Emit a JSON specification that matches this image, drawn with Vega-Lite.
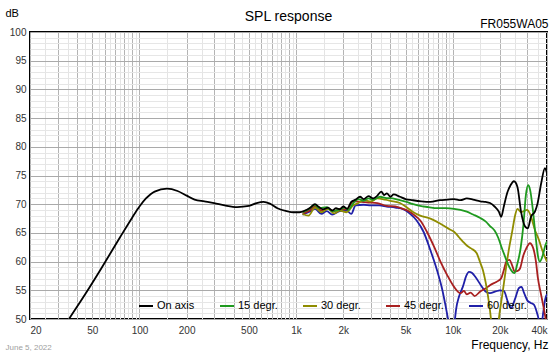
{
  "$schema": "https://vega.github.io/schema/vega-lite/v6.json",
  "width": 517,
  "height": 287,
  "autosize": {"type": "none"},
  "padding": {"left": 30, "top": 32, "right": 13, "bottom": 37},
  "background": "#ffffff",
  "config": {
    "font": "Liberation Sans",
    "view": {"stroke": "#000000", "strokeWidth": 2}
  },
  "title": {
    "text": "SPL response",
    "fontSize": 14,
    "fontWeight": "normal",
    "color": "#000000",
    "anchor": "middle",
    "frame": "group",
    "offset": -17
  },
  "data": {
    "values": [
      {"s": "60 degr.", "f": 1100, "db": 68.2},
      {"s": "60 degr.", "f": 1200, "db": 68.6},
      {"s": "60 degr.", "f": 1320, "db": 69.2},
      {"s": "60 degr.", "f": 1450, "db": 68.3},
      {"s": "60 degr.", "f": 1570, "db": 68.8},
      {"s": "60 degr.", "f": 1700, "db": 68.2},
      {"s": "60 degr.", "f": 1900, "db": 68.8},
      {"s": "60 degr.", "f": 2100, "db": 68.9},
      {"s": "60 degr.", "f": 2250, "db": 68.3},
      {"s": "60 degr.", "f": 2400, "db": 69.8},
      {"s": "60 degr.", "f": 2700, "db": 69.9},
      {"s": "60 degr.", "f": 3000, "db": 69.8},
      {"s": "60 degr.", "f": 3400, "db": 69.8},
      {"s": "60 degr.", "f": 3790, "db": 69.6},
      {"s": "60 degr.", "f": 4300, "db": 69.4},
      {"s": "60 degr.", "f": 4860, "db": 69.1},
      {"s": "60 degr.", "f": 5300, "db": 68.4},
      {"s": "60 degr.", "f": 5870, "db": 67.2},
      {"s": "60 degr.", "f": 6510, "db": 65.2},
      {"s": "60 degr.", "f": 7200, "db": 62.0},
      {"s": "60 degr.", "f": 7940, "db": 58.5},
      {"s": "60 degr.", "f": 8580, "db": 55.1},
      {"s": "60 degr.", "f": 9030, "db": 52.1},
      {"s": "60 degr.", "f": 9400, "db": 49.5},
      {"s": "60 degr.", "f": 9800, "db": 46.0},
      {"s": "60 degr.", "f": 10200, "db": 48.5},
      {"s": "60 degr.", "f": 10500, "db": 51.6},
      {"s": "60 degr.", "f": 11000, "db": 54.0},
      {"s": "60 degr.", "f": 11600, "db": 55.6},
      {"s": "60 degr.", "f": 12200, "db": 57.5},
      {"s": "60 degr.", "f": 12700, "db": 58.2},
      {"s": "60 degr.", "f": 13300, "db": 58.0},
      {"s": "60 degr.", "f": 13900, "db": 57.4},
      {"s": "60 degr.", "f": 15200, "db": 55.8},
      {"s": "60 degr.", "f": 16200, "db": 54.8},
      {"s": "60 degr.", "f": 17300, "db": 54.5},
      {"s": "60 degr.", "f": 18800, "db": 54.8},
      {"s": "60 degr.", "f": 20000, "db": 55.0},
      {"s": "60 degr.", "f": 21200, "db": 54.9},
      {"s": "60 degr.", "f": 22500, "db": 53.0},
      {"s": "60 degr.", "f": 23600, "db": 51.9},
      {"s": "60 degr.", "f": 25000, "db": 53.5},
      {"s": "60 degr.", "f": 26500, "db": 55.4},
      {"s": "60 degr.", "f": 27500, "db": 55.6},
      {"s": "60 degr.", "f": 28500, "db": 54.6},
      {"s": "60 degr.", "f": 30000, "db": 53.2},
      {"s": "60 degr.", "f": 31500, "db": 52.8},
      {"s": "60 degr.", "f": 33000, "db": 52.5},
      {"s": "60 degr.", "f": 35000, "db": 50.5},
      {"s": "60 degr.", "f": 36500, "db": 48.5},
      {"s": "60 degr.", "f": 38000, "db": 51.5},
      {"s": "60 degr.", "f": 39000, "db": 53.5},
      {"s": "60 degr.", "f": 40000, "db": 54.3},

      {"s": "45 degr.", "f": 1100, "db": 68.4},
      {"s": "45 degr.", "f": 1200, "db": 68.8},
      {"s": "45 degr.", "f": 1320, "db": 69.6},
      {"s": "45 degr.", "f": 1450, "db": 68.9},
      {"s": "45 degr.", "f": 1570, "db": 69.3},
      {"s": "45 degr.", "f": 1750, "db": 68.8},
      {"s": "45 degr.", "f": 1900, "db": 69.2},
      {"s": "45 degr.", "f": 2100, "db": 69.1},
      {"s": "45 degr.", "f": 2320, "db": 70.5},
      {"s": "45 degr.", "f": 2600, "db": 70.4},
      {"s": "45 degr.", "f": 2900, "db": 70.3},
      {"s": "45 degr.", "f": 3300, "db": 70.2},
      {"s": "45 degr.", "f": 3790, "db": 69.7},
      {"s": "45 degr.", "f": 4300, "db": 69.6},
      {"s": "45 degr.", "f": 4800, "db": 69.2},
      {"s": "45 degr.", "f": 5300, "db": 68.7},
      {"s": "45 degr.", "f": 5800, "db": 67.9},
      {"s": "45 degr.", "f": 6190, "db": 67.2},
      {"s": "45 degr.", "f": 6840, "db": 65.2},
      {"s": "45 degr.", "f": 7600, "db": 62.6},
      {"s": "45 degr.", "f": 8350, "db": 60.0},
      {"s": "45 degr.", "f": 9200, "db": 57.7},
      {"s": "45 degr.", "f": 10200, "db": 55.6},
      {"s": "45 degr.", "f": 11200, "db": 54.5},
      {"s": "45 degr.", "f": 11800, "db": 54.9},
      {"s": "45 degr.", "f": 12300, "db": 54.3},
      {"s": "45 degr.", "f": 13000, "db": 54.6},
      {"s": "45 degr.", "f": 13800, "db": 54.0},
      {"s": "45 degr.", "f": 15000, "db": 54.8},
      {"s": "45 degr.", "f": 16200, "db": 55.3},
      {"s": "45 degr.", "f": 17300, "db": 55.9},
      {"s": "45 degr.", "f": 19100, "db": 56.5},
      {"s": "45 degr.", "f": 20400, "db": 57.1},
      {"s": "45 degr.", "f": 21200, "db": 58.5},
      {"s": "45 degr.", "f": 22000, "db": 60.0},
      {"s": "45 degr.", "f": 23000, "db": 60.3},
      {"s": "45 degr.", "f": 24000, "db": 59.3},
      {"s": "45 degr.", "f": 24800, "db": 58.3},
      {"s": "45 degr.", "f": 26000, "db": 58.4},
      {"s": "45 degr.", "f": 26900, "db": 58.8},
      {"s": "45 degr.", "f": 28200, "db": 61.0},
      {"s": "45 degr.", "f": 29500, "db": 62.3},
      {"s": "45 degr.", "f": 31100, "db": 63.2},
      {"s": "45 degr.", "f": 32700, "db": 62.3},
      {"s": "45 degr.", "f": 34000, "db": 60.0},
      {"s": "45 degr.", "f": 35000, "db": 57.1},
      {"s": "45 degr.", "f": 36500, "db": 54.5},
      {"s": "45 degr.", "f": 38000, "db": 52.1},
      {"s": "45 degr.", "f": 39500, "db": 49.5},
      {"s": "45 degr.", "f": 40000, "db": 48.5},

      {"s": "30 degr.", "f": 1100, "db": 68.3},
      {"s": "30 degr.", "f": 1200, "db": 68.0},
      {"s": "30 degr.", "f": 1320, "db": 69.4},
      {"s": "30 degr.", "f": 1450, "db": 68.6},
      {"s": "30 degr.", "f": 1600, "db": 69.2},
      {"s": "30 degr.", "f": 1750, "db": 68.4},
      {"s": "30 degr.", "f": 1900, "db": 68.9},
      {"s": "30 degr.", "f": 2100, "db": 68.6},
      {"s": "30 degr.", "f": 2320, "db": 69.8},
      {"s": "30 degr.", "f": 2500, "db": 70.2},
      {"s": "30 degr.", "f": 2700, "db": 70.7},
      {"s": "30 degr.", "f": 3000, "db": 70.5},
      {"s": "30 degr.", "f": 3300, "db": 71.0},
      {"s": "30 degr.", "f": 3700, "db": 70.8},
      {"s": "30 degr.", "f": 4000, "db": 70.6},
      {"s": "30 degr.", "f": 4600, "db": 70.2},
      {"s": "30 degr.", "f": 5000, "db": 69.6},
      {"s": "30 degr.", "f": 5550, "db": 68.7},
      {"s": "30 degr.", "f": 6200, "db": 68.0},
      {"s": "30 degr.", "f": 7200, "db": 67.5},
      {"s": "30 degr.", "f": 8350, "db": 66.6},
      {"s": "30 degr.", "f": 9600, "db": 65.6},
      {"s": "30 degr.", "f": 10200, "db": 65.2},
      {"s": "30 degr.", "f": 11000, "db": 64.2},
      {"s": "30 degr.", "f": 11600, "db": 63.5},
      {"s": "30 degr.", "f": 12300, "db": 62.8},
      {"s": "30 degr.", "f": 13100, "db": 62.3},
      {"s": "30 degr.", "f": 14200, "db": 61.5},
      {"s": "30 degr.", "f": 15000, "db": 59.8},
      {"s": "30 degr.", "f": 15600, "db": 58.5},
      {"s": "30 degr.", "f": 16200, "db": 56.5},
      {"s": "30 degr.", "f": 16800, "db": 54.0},
      {"s": "30 degr.", "f": 17300, "db": 51.5},
      {"s": "30 degr.", "f": 17800, "db": 48.5},
      {"s": "30 degr.", "f": 18500, "db": 45.0},
      {"s": "30 degr.", "f": 19200, "db": 47.5},
      {"s": "30 degr.", "f": 19800, "db": 50.5},
      {"s": "30 degr.", "f": 20800, "db": 54.5},
      {"s": "30 degr.", "f": 21800, "db": 58.5},
      {"s": "30 degr.", "f": 22800, "db": 62.0},
      {"s": "30 degr.", "f": 24000, "db": 65.3},
      {"s": "30 degr.", "f": 25000, "db": 68.0},
      {"s": "30 degr.", "f": 25900, "db": 69.2},
      {"s": "30 degr.", "f": 27300, "db": 68.6},
      {"s": "30 degr.", "f": 28500, "db": 68.8},
      {"s": "30 degr.", "f": 29800, "db": 69.0},
      {"s": "30 degr.", "f": 31300, "db": 68.2},
      {"s": "30 degr.", "f": 33500, "db": 65.5},
      {"s": "30 degr.", "f": 35500, "db": 63.8},
      {"s": "30 degr.", "f": 37500, "db": 61.8},
      {"s": "30 degr.", "f": 40000, "db": 60.0},

      {"s": "15 degr.", "f": 1100, "db": 68.6},
      {"s": "15 degr.", "f": 1200, "db": 69.1},
      {"s": "15 degr.", "f": 1320, "db": 69.9},
      {"s": "15 degr.", "f": 1400, "db": 69.3},
      {"s": "15 degr.", "f": 1570, "db": 69.5},
      {"s": "15 degr.", "f": 1700, "db": 68.8},
      {"s": "15 degr.", "f": 1900, "db": 69.1},
      {"s": "15 degr.", "f": 2050, "db": 69.4},
      {"s": "15 degr.", "f": 2150, "db": 69.0},
      {"s": "15 degr.", "f": 2320, "db": 70.2},
      {"s": "15 degr.", "f": 2500, "db": 70.9},
      {"s": "15 degr.", "f": 2700, "db": 70.6},
      {"s": "15 degr.", "f": 2900, "db": 71.0},
      {"s": "15 degr.", "f": 3100, "db": 70.8},
      {"s": "15 degr.", "f": 3440, "db": 71.3},
      {"s": "15 degr.", "f": 3700, "db": 71.1},
      {"s": "15 degr.", "f": 4140, "db": 71.0},
      {"s": "15 degr.", "f": 4600, "db": 70.7},
      {"s": "15 degr.", "f": 5080, "db": 70.4},
      {"s": "15 degr.", "f": 5600, "db": 70.0},
      {"s": "15 degr.", "f": 6190, "db": 69.7},
      {"s": "15 degr.", "f": 7000, "db": 69.5},
      {"s": "15 degr.", "f": 7940, "db": 69.3},
      {"s": "15 degr.", "f": 9000, "db": 69.3},
      {"s": "15 degr.", "f": 10200, "db": 69.2},
      {"s": "15 degr.", "f": 11200, "db": 69.0},
      {"s": "15 degr.", "f": 12300, "db": 68.7},
      {"s": "15 degr.", "f": 13500, "db": 68.2},
      {"s": "15 degr.", "f": 15000, "db": 67.6},
      {"s": "15 degr.", "f": 16200, "db": 67.0},
      {"s": "15 degr.", "f": 17300, "db": 66.2},
      {"s": "15 degr.", "f": 18500, "db": 65.4},
      {"s": "15 degr.", "f": 19500, "db": 64.2},
      {"s": "15 degr.", "f": 20500, "db": 62.5},
      {"s": "15 degr.", "f": 21500, "db": 61.0},
      {"s": "15 degr.", "f": 22500, "db": 59.6},
      {"s": "15 degr.", "f": 23500, "db": 58.6},
      {"s": "15 degr.", "f": 24800, "db": 58.0},
      {"s": "15 degr.", "f": 25800, "db": 59.5},
      {"s": "15 degr.", "f": 27200, "db": 62.5},
      {"s": "15 degr.", "f": 28300, "db": 66.5},
      {"s": "15 degr.", "f": 29300, "db": 71.5},
      {"s": "15 degr.", "f": 30300, "db": 73.3},
      {"s": "15 degr.", "f": 31200, "db": 72.5},
      {"s": "15 degr.", "f": 32500, "db": 69.0},
      {"s": "15 degr.", "f": 33800, "db": 64.5},
      {"s": "15 degr.", "f": 35000, "db": 61.0},
      {"s": "15 degr.", "f": 36000, "db": 60.0},
      {"s": "15 degr.", "f": 37500, "db": 61.0},
      {"s": "15 degr.", "f": 39000, "db": 62.8},
      {"s": "15 degr.", "f": 40000, "db": 63.5},

      {"s": "On axis", "f": 30, "db": 46.9},
      {"s": "On axis", "f": 35.5, "db": 50.0},
      {"s": "On axis", "f": 45, "db": 54.3},
      {"s": "On axis", "f": 57, "db": 58.8},
      {"s": "On axis", "f": 75, "db": 64.2},
      {"s": "On axis", "f": 90, "db": 67.7},
      {"s": "On axis", "f": 100, "db": 69.6},
      {"s": "On axis", "f": 110, "db": 71.0},
      {"s": "On axis", "f": 125, "db": 72.2},
      {"s": "On axis", "f": 150, "db": 72.7},
      {"s": "On axis", "f": 175, "db": 72.3},
      {"s": "On axis", "f": 200, "db": 71.5},
      {"s": "On axis", "f": 225, "db": 70.8},
      {"s": "On axis", "f": 260, "db": 70.5},
      {"s": "On axis", "f": 300, "db": 70.2},
      {"s": "On axis", "f": 350, "db": 69.8},
      {"s": "On axis", "f": 420, "db": 69.5},
      {"s": "On axis", "f": 500, "db": 69.7},
      {"s": "On axis", "f": 560, "db": 70.2},
      {"s": "On axis", "f": 620, "db": 70.4},
      {"s": "On axis", "f": 680, "db": 70.1},
      {"s": "On axis", "f": 760, "db": 69.3},
      {"s": "On axis", "f": 870, "db": 68.8},
      {"s": "On axis", "f": 960, "db": 68.6},
      {"s": "On axis", "f": 1050, "db": 68.6},
      {"s": "On axis", "f": 1140, "db": 68.9},
      {"s": "On axis", "f": 1230, "db": 69.4},
      {"s": "On axis", "f": 1320, "db": 70.0},
      {"s": "On axis", "f": 1400, "db": 69.5},
      {"s": "On axis", "f": 1490, "db": 69.1},
      {"s": "On axis", "f": 1600, "db": 69.4},
      {"s": "On axis", "f": 1700, "db": 68.9},
      {"s": "On axis", "f": 1800, "db": 69.3},
      {"s": "On axis", "f": 1900, "db": 69.1},
      {"s": "On axis", "f": 2000, "db": 69.6},
      {"s": "On axis", "f": 2120, "db": 69.2},
      {"s": "On axis", "f": 2250, "db": 70.4},
      {"s": "On axis", "f": 2400, "db": 70.8},
      {"s": "On axis", "f": 2560, "db": 71.3},
      {"s": "On axis", "f": 2700, "db": 70.9},
      {"s": "On axis", "f": 2900, "db": 71.4},
      {"s": "On axis", "f": 3100, "db": 71.0},
      {"s": "On axis", "f": 3280, "db": 71.4},
      {"s": "On axis", "f": 3500, "db": 72.2},
      {"s": "On axis", "f": 3650, "db": 71.6},
      {"s": "On axis", "f": 3800, "db": 71.9},
      {"s": "On axis", "f": 4000, "db": 71.3},
      {"s": "On axis", "f": 4200, "db": 71.7},
      {"s": "On axis", "f": 4600, "db": 71.3},
      {"s": "On axis", "f": 5000, "db": 70.9},
      {"s": "On axis", "f": 5550, "db": 70.7},
      {"s": "On axis", "f": 6300, "db": 70.5},
      {"s": "On axis", "f": 7200, "db": 70.4},
      {"s": "On axis", "f": 8300, "db": 70.7},
      {"s": "On axis", "f": 9200, "db": 70.8},
      {"s": "On axis", "f": 10200, "db": 70.9},
      {"s": "On axis", "f": 11200, "db": 70.7},
      {"s": "On axis", "f": 12300, "db": 71.0},
      {"s": "On axis", "f": 13500, "db": 70.8},
      {"s": "On axis", "f": 15000, "db": 70.5},
      {"s": "On axis", "f": 16200, "db": 70.4},
      {"s": "On axis", "f": 17300, "db": 70.2},
      {"s": "On axis", "f": 18500, "db": 69.6},
      {"s": "On axis", "f": 19700, "db": 68.7},
      {"s": "On axis", "f": 20400, "db": 67.8},
      {"s": "On axis", "f": 21200, "db": 69.6},
      {"s": "On axis", "f": 22300, "db": 72.0},
      {"s": "On axis", "f": 23400, "db": 73.3},
      {"s": "On axis", "f": 24600, "db": 74.0},
      {"s": "On axis", "f": 25900, "db": 73.0},
      {"s": "On axis", "f": 27300, "db": 68.7},
      {"s": "On axis", "f": 29000, "db": 66.1},
      {"s": "On axis", "f": 30200, "db": 65.8},
      {"s": "On axis", "f": 31600, "db": 67.8},
      {"s": "On axis", "f": 33500, "db": 68.7},
      {"s": "On axis", "f": 34800, "db": 70.1},
      {"s": "On axis", "f": 36700, "db": 73.6},
      {"s": "On axis", "f": 38800, "db": 76.3},
      {"s": "On axis", "f": 40000, "db": 75.4}
    ]
  },
  "resolve": {"axis": {"x": "independent", "y": "independent"}},
  "layer": [
    {
      "mark": {"type": "line", "strokeWidth": 1.8, "clip": true, "interpolate": "monotone"},
      "encoding": {
        "x": {
          "field": "f",
          "type": "quantitative",
          "scale": {"type": "log", "domain": [20, 40000], "nice": false},
          "axis": {
            "orient": "bottom",
            "values": [20,25,30,35,40,45,50,55,60,65,70,75,80,85,90,95,100,150,200,250,300,350,400,450,500,550,600,650,700,750,800,850,900,950,1000,1500,2000,2500,3000,3500,4000,4500,5000,5500,6000,6500,7000,7500,8000,8500,9000,9500,10000,15000,20000,25000,30000,35000,40000],
            "labelExpr": "indexof([20,50,100,200,500,1000,2000,5000,10000,20000,40000], datum.value) >= 0 ? (datum.value >= 1000 ? (datum.value / 1000) + 'k' : '' + datum.value) : ''",
            "grid": true,
            "gridColor": {"condition": {"test": "(datum.value / pow(10, floor(log(datum.value) / LN10 + 1e-9))) % 1 == 0", "value": "#b4b4b4"}, "value": "#e4e4e4"},
            "gridWidth": 1,
            "ticks": false,
            "domain": false,
            "labelFontSize": 10,
            "labelColor": "#333333",
            "labelPadding": 6,
            "labelOverlap": false,
            "labelFlush": true,
            "title": "Frequency, Hz",
            "titleFontSize": 12,
            "titleFontWeight": "normal",
            "titleColor": "#000000",
            "titleAlign": "right",
            "titleAnchor": "end",
            "titleBaseline": "alphabetic",
            "titleX": 518,
            "titleY": 29
          }
        },
        "y": {
          "field": "db",
          "type": "quantitative",
          "scale": {"domain": [50, 100], "nice": false, "zero": false},
          "axis": {
            "orient": "left",
            "values": [50,51,52,53,54,55,56,57,58,59,60,61,62,63,64,65,66,67,68,69,70,71,72,73,74,75,76,77,78,79,80,81,82,83,84,85,86,87,88,89,90,91,92,93,94,95,96,97,98,99,100],
            "labelExpr": "datum.value % 5 == 0 ? '' + datum.value : ''",
            "grid": true,
            "gridColor": {"condition": {"test": "datum.value % 5 == 0", "value": "#aaaaaa"}, "value": "#e6e6e6"},
            "gridWidth": 1,
            "ticks": false,
            "domain": false,
            "labelFontSize": 10,
            "labelColor": "#333333",
            "labelPadding": 4,
            "labelOverlap": false,
            "title": "dB",
            "titleAngle": 0,
            "titleAlign": "left",
            "titleBaseline": "alphabetic",
            "titleFontSize": 11,
            "titleFontWeight": "normal",
            "titleColor": "#000000",
            "titleX": -25,
            "titleY": -16
          }
        },
        "color": {
          "field": "s",
          "type": "nominal",
          "scale": {
            "domain": ["On axis", "15 degr.", "30 degr.", "45 degr.", "60 degr."],
            "range": ["#000000", "#1f9a1f", "#8f8c00", "#a82020", "#2020a8"]
          },
          "legend": {
            "orient": "none",
            "legendX": 108,
            "legendY": 266,
            "direction": "horizontal",
            "title": null,
            "symbolType": "stroke",
            "symbolStrokeWidth": 2,
            "symbolSize": 196,
            "labelFontSize": 11,
            "labelColor": "#000000",
            "labelOffset": 3,
            "columnPadding": 21,
            "padding": 0
          }
        }
      }
    },
    {
      "transform": [{"filter": "false"}],
      "mark": {"type": "line"},
      "encoding": {
        "x": {
          "field": "f",
          "type": "quantitative",
          "axis": {
            "orient": "top",
            "labels": false,
            "ticks": false,
            "domain": false,
            "grid": false,
            "title": "FR055WA05",
            "titleFontSize": 12,
            "titleFontWeight": "normal",
            "titleColor": "#000000",
            "titleAlign": "right",
            "titleBaseline": "alphabetic",
            "titleX": 518,
            "titleY": -5
          }
        },
        "y": {
          "field": "db",
          "type": "quantitative",
          "axis": {
            "orient": "left",
            "labels": false,
            "ticks": false,
            "domain": false,
            "grid": false,
            "title": "June 5, 2022",
            "titleAngle": 0,
            "titleAlign": "left",
            "titleBaseline": "alphabetic",
            "titleFontSize": 8,
            "titleFontWeight": "normal",
            "titleColor": "#a0a0a0",
            "titleX": -25,
            "titleY": 317
          }
        }
      }
    }
  ]
}
